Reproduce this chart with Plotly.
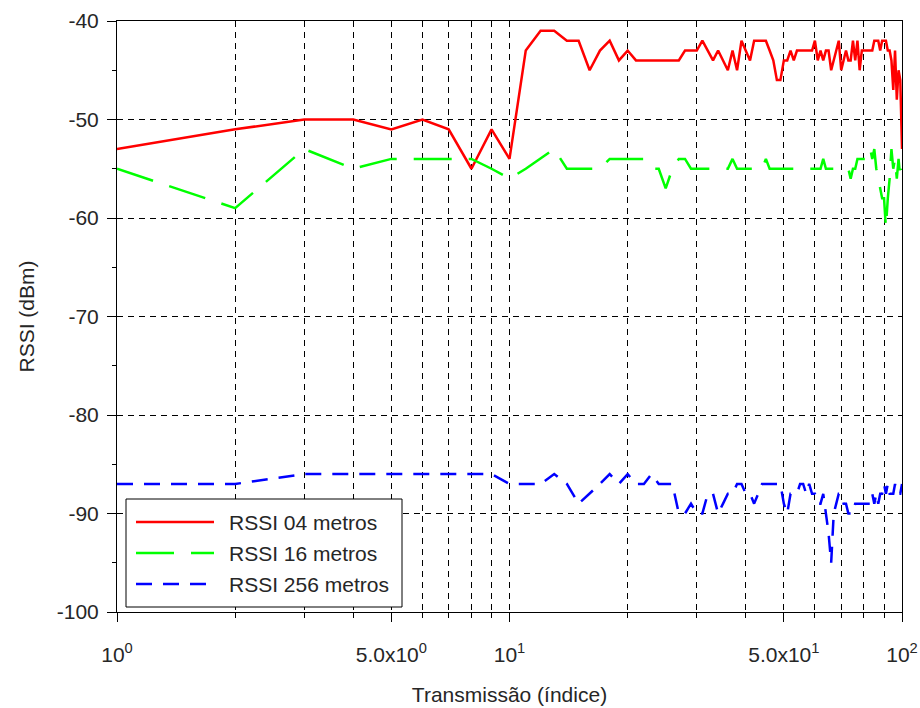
import plotly.graph_objects as go

idx = list(range(1, 101))

rssi_04 = [-53, -51, -50, -50, -51, -50, -51, -55, -51, -54,
           -43, -41, -41, -42, -42, -45, -43, -42, -44, -43,
           -44, -44, -44, -44, -44, -44, -44, -43, -43, -43,
           -42, -43, -44, -43, -44, -45, -43, -45, -42, -43,
           -44, -42, -42, -42, -42, -43, -44, -46, -46, -44,
           -44, -43, -44, -43, -43, -43, -43, -43, -43, -42,
           -44, -43, -44, -43, -43, -45, -44, -43, -42, -45,
           -44, -43, -44, -44, -42, -44, -42, -45, -43, -43,
           -43, -43, -43, -43, -42, -42, -42, -43, -42, -42,
           -42, -43, -43, -44, -47, -43, -48, -45, -46, -53]

rssi_16 = [-55, -59, -53, -55, -54, -54, -54, -54, -55, -56,
           -55, -54, -53, -55, -55, -55, -55, -54, -54, -54,
           -54, -54, -55, -55, -57, -55, -54, -54, -55, -55,
           -55, -55, -55, -55, -55, -55, -54, -55, -55, -55,
           -55, -55, -55, -55, -54, -55, -55, -55, -55, -55,
           -55, -55, -55, -55, -55, -55, -55, -55, -55, -55,
           -55, -55, -54, -55, -55, -55, -55, -55, -55, -55,
           -55, -55, -55, -56, -55, -55, -54, -54, -54, -54,
           -54, -54, -53, -54, -53, -55, -56, -57, -58, -58,
           -61, -58, -56, -53, -55, -54, -56, -54, -56, -55]

rssi_256 = [-87, -87, -86, -86, -86, -86, -86, -86, -86, -87,
            -87, -87, -86, -87, -89, -88, -87, -86, -87, -86,
            -87, -87, -86, -87, -87, -87, -90, -90, -89, -90,
            -90, -88, -88, -90, -89, -88, -88, -87, -87, -88,
            -88, -89, -88, -87, -87, -87, -87, -87, -87, -89,
            -90, -88, -88, -88, -87, -87, -88, -87, -88, -88,
            -89, -89, -88, -90, -92, -95, -90, -89, -88, -88,
            -89, -89, -90, -90, -90, -89, -89, -89, -89, -89,
            -89, -89, -89, -88, -89, -88, -89, -88, -88, -87,
            -88, -87, -88, -88, -88, -87, -88, -88, -88, -87]

names = ["RSSI 04 metros", "RSSI 16 metros", "RSSI 256 metros"]
colors = ["#ff0000", "#00ff00", "#0000ff"]
dashes = ["solid", "38px,17px", "16px,11px"]
x_tickvals = [1, 5, 10, 50, 100]
x_ticktext = ["10<sup>0</sup>", "5.0x10<sup>0</sup>", "10<sup>1</sup>",
              "5.0x10<sup>1</sup>", "10<sup>2</sup>"]
x_minor = [2, 3, 4, 6, 7, 8, 9, 20, 30, 40, 60, 70, 80, 90]
y_tickvals = [-100, -90, -80, -70, -60, -50, -40]
y_ticktext = ["-100", "-90", "-80", "-70", "-60", "-50", "-40"]

FONT = "Liberation Sans, Arial, sans-serif"
TXT = "#262626"

# plot-area geometry (pixels) used for the hand-drawn legend box
W, H = 920, 708
ML, MR, MT, MB = 117, 18, 21, 96
PW, PH = W - ML - MR, H - MT - MB


def px_x(p):
    return (p - ML) / PW


def px_y(p):
    return (H - MB - p) / PH


fig = go.Figure()
series = [rssi_04, rssi_16, rssi_256]
for s, n, c, d in zip(series, names, colors, dashes):
    fig.add_trace(go.Scatter(x=idx, y=s, mode="lines", name=n, showlegend=False,
                             line=dict(color=c, width=2.5, dash=d)))

# legend box
shapes = [dict(type="rect", xref="paper", yref="paper",
               x0=px_x(126), x1=px_x(402), y0=px_y(607), y1=px_y(499),
               line=dict(color="black", width=1), fillcolor="white", layer="above")]
annotations = []
rows = [522, 553, 584]
for n, c, d, ry in zip(names, colors, dashes, rows):
    shapes.append(dict(type="line", xref="paper", yref="paper",
                       x0=px_x(136), x1=px_x(214), y0=px_y(ry), y1=px_y(ry),
                       line=dict(color=c, width=2.5, dash=d), layer="above"))
    annotations.append(dict(xref="paper", yref="paper", x=px_x(227), y=px_y(ry),
                            xanchor="left", yanchor="middle", showarrow=False,
                            text=n, font=dict(size=21, color=TXT, family=FONT)))

fig.update_layout(
    width=W, height=H,
    margin=dict(l=ML, r=MR, t=MT, b=MB),
    paper_bgcolor="white", plot_bgcolor="white",
    font=dict(family=FONT, size=21, color=TXT),
    showlegend=False,
    shapes=shapes, annotations=annotations,
    xaxis=dict(
        type="log", range=[0, 2], automargin=False,
        tickmode="array", tickvals=x_tickvals, ticktext=x_ticktext,
        ticks="outside", ticklen=9, tickcolor="black", tickwidth=1,
        showline=True, linecolor="black", linewidth=1, mirror=True,
        showgrid=True, gridcolor="black", gridwidth=1, griddash="6px,5px",
        minor=dict(tickmode="array", tickvals=x_minor, ticks="outside",
                   ticklen=5, tickcolor="black", showgrid=True,
                   gridcolor="black", gridwidth=1, griddash="6px,5px"),
        title=dict(text="Transmissão (índice)", font=dict(size=21), standoff=22),
        zeroline=False, ticklabelstandoff=15, tickfont=dict(size=21),
    ),
    yaxis=dict(
        range=[-100, -40], automargin=False,
        tickmode="array", tickvals=y_tickvals, ticktext=y_ticktext,
        ticks="outside", ticklen=9, tickcolor="black", tickwidth=1,
        showline=True, linecolor="black", linewidth=1, mirror=True,
        showgrid=True, gridcolor="black", gridwidth=1, griddash="6px,5px",
        minor=dict(dtick=5, ticks="outside", ticklen=4, tickcolor="black",
                   showgrid=False),
        title=dict(text="RSSI (dBm)", font=dict(size=21), standoff=16),
        zeroline=False, ticklabelstandoff=4, tickfont=dict(size=21),
    ),
)

fig.write_html("out.html")
